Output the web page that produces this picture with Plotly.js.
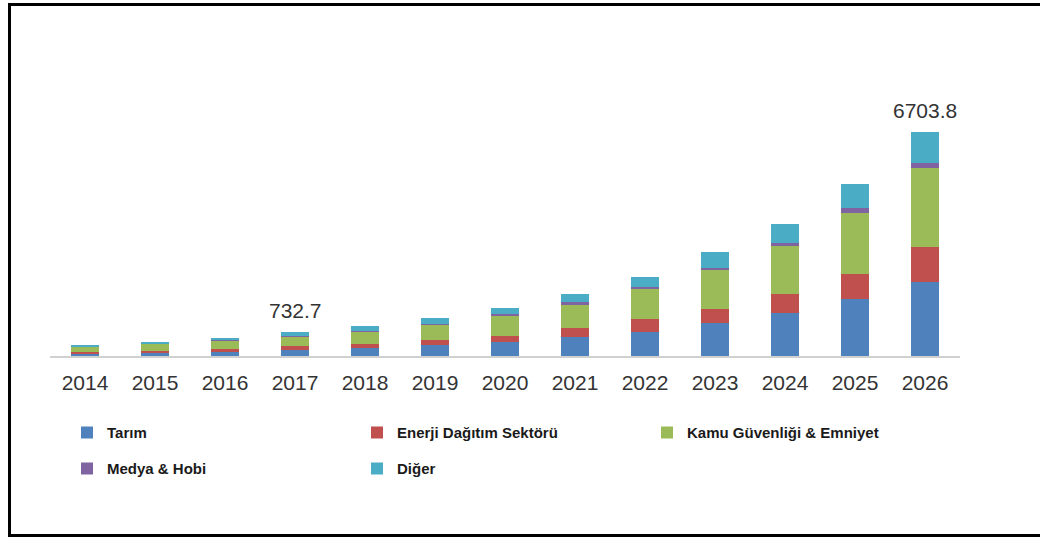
<!DOCTYPE html>
<html>
<head>
<meta charset="utf-8">
<script src="https://cdn.plot.ly/plotly-3.0.1.min.js"></script>
<style>
html,body{margin:0;padding:0;background:#fff;}
#chart{width:1040px;height:538px;}
</style>
</head>
<body>
<div id="chart"></div>
<script>
// ---- data ----
const years = ['2014','2015','2016','2017','2018','2019','2020','2021','2022','2023','2024','2025','2026'];
const tarim  = [60, 80, 120, 175, 230, 320, 429, 569, 728, 980, 1298, 1699, 2218];
const enerji = [65, 78, 90, 130, 138, 150, 180, 261, 372, 420, 569, 749, 1049];
const kamu   = [150, 210, 260, 283, 360, 459, 599, 728, 908, 1169, 1439, 1846, 2368];
const medya  = [10, 12, 15, 25, 30, 35, 45, 55, 65, 75, 90, 150, 150];
const diger  = [40, 45, 50, 119.7, 130, 180, 195, 240, 300, 468, 569, 710, 918.8];
const seriesNames = ['Tarım', 'Enerji Dağıtım Sektörü', 'Kamu Güvenliği & Emniyet', 'Medya & Hobi', 'Diğer'];
const labelYears = ['2017', '2026'];
const labelTexts = ['732.7', '6703.8'];

const colors = ['#4F81BD', '#C0504D', '#9BBB59', '#8064A2', '#4BACC6'];
const allSeries = [tarim, enerji, kamu, medya, diger];
const legendOf = ['legend', 'legend', 'legend', 'legend2', 'legend2'];

const traces = allSeries.map((vals, i) => ({
  type: 'bar',
  x: years,
  y: vals,
  name: seriesNames[i],
  marker: {color: colors[i], line: {width: 0}},
  legend: legendOf[i],
  hoverinfo: 'x+y+name'
}));

const totals = years.map((_, k) => allSeries.reduce((s, arr) => s + arr[k], 0));

const sans = '"Liberation Sans", Arial, sans-serif';
const legFont = {family: sans, size: 15, color: '#1a1a1a', weight: 'bold'};

const annotations = labelYears.map((yr, i) => ({
  x: years.indexOf(yr),
  y: totals[years.indexOf(yr)],
  xref: 'x',
  yref: 'y',
  text: labelTexts[i],
  showarrow: false,
  yanchor: 'bottom',
  yshift: 8,
  font: {family: sans, size: 21, color: '#333'}
}));

const layout = {
  width: 1040,
  height: 538,
  margin: {l: 50, r: 80, t: 100, b: 182},
  paper_bgcolor: '#fff',
  plot_bgcolor: '#fff',
  barmode: 'stack',
  bargap: 0.6,
  showlegend: true,
  xaxis: {
    type: 'category',
    range: [-0.5, 12.5],
    showline: true,
    linecolor: '#d0d0d0',
    linewidth: 2,
    ticks: '',
    showgrid: false,
    zeroline: false,
    ticklabelstandoff: 7,
    tickfont: {family: sans, size: 21, color: '#333'}
  },
  yaxis: {
    range: [0, 7672],
    showgrid: false,
    zeroline: false,
    showticklabels: false,
    showline: false,
    ticks: ''
  },
  legend: {
    orientation: 'h',
    x: 17 / 910, xanchor: 'left',
    y: -0.30, yanchor: 'middle',
    entrywidth: 245, entrywidthmode: 'pixels',
    itemwidth: 30,
    font: legFont,
    bgcolor: 'rgba(0,0,0,0)',
    traceorder: 'normal'
  },
  legend2: {
    orientation: 'h',
    x: 17 / 910, xanchor: 'left',
    y: -0.44, yanchor: 'middle',
    entrywidth: 245, entrywidthmode: 'pixels',
    itemwidth: 30,
    font: legFont,
    bgcolor: 'rgba(0,0,0,0)',
    traceorder: 'normal'
  },
  annotations: annotations,
  shapes: [{
    type: 'rect',
    xref: 'paper', yref: 'paper',
    x0: (9.5 - 50) / 910, x1: (1050 - 50) / 910,
    y0: (356 - 535.5) / 256, y1: (356 - 4.5) / 256,
    line: {color: '#000', width: 3},
    fillcolor: 'rgba(0,0,0,0)',
    layer: 'below'
  }]
};

Plotly.newPlot('chart', traces, layout, {displayModeBar: false, responsive: false});
</script>
</body>
</html>
